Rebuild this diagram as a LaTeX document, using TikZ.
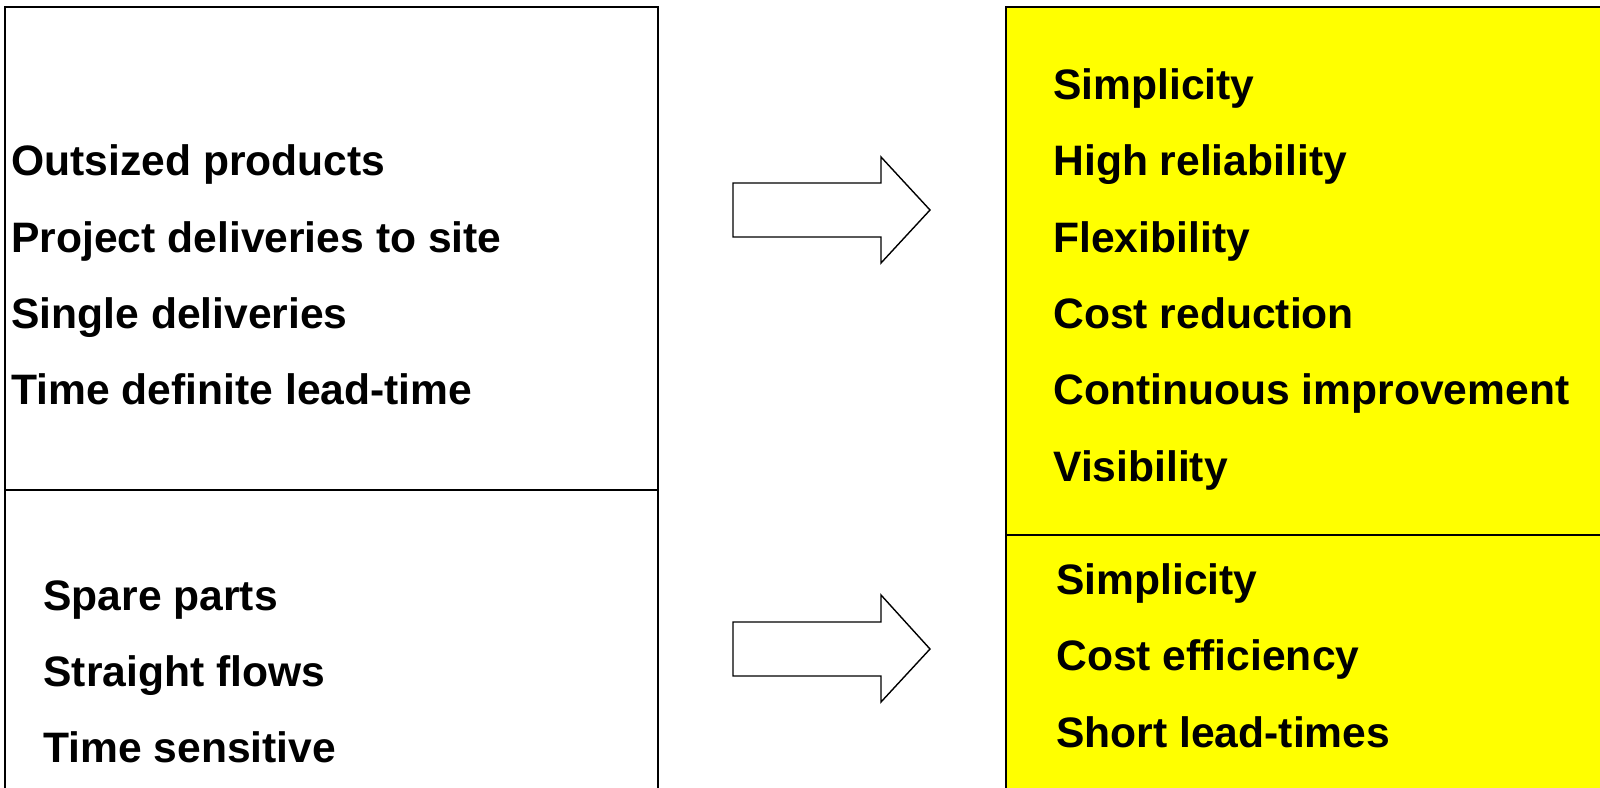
\documentclass[tikz,border=0pt]{standalone}
\usepackage{fontspec}
\setmainfont{Liberation Sans}
\definecolor{panelyellow}{RGB}{255,255,0}
\tikzset{
  panel/.style={draw=black, line width=1pt},
  fatarrow/.style={draw=black, fill=white, line width=0.7pt, line join=miter},
  item/.style={anchor=base west, inner sep=0pt, font=\fontsize{21.3pt}{25pt}\selectfont\bfseries}
}
\begin{document}
\begin{tikzpicture}[x=0.5pt,y=-0.5pt]
\useasboundingbox (0,0) rectangle (1600,787);
\begin{scope}
\clip (0,0) rectangle (1600,787);
% left panel with its divider
\draw[panel] (5,7) rectangle (658,820);
\draw[panel] (5,490) -- (658,490);
% right panel, yellow, open to the right and bottom
\fill[panelyellow] (1006,7) rectangle (1620,820);
\draw[panel] (1006,820) -- (1006,7) -- (1620,7);
\draw[panel] (1006,535) -- (1620,535);
\end{scope}

% block arrows between the panels
\draw[fatarrow] (733,183) -- (881,183) -- (881,157) -- (930,210) -- (881,263) -- (881,237) -- (733,237) -- cycle;
\draw[fatarrow] (733,622) -- (881,622) -- (881,595) -- (930,649) -- (881,702) -- (881,676) -- (733,676) -- cycle;

% upper left items
\node[item] (l1) at (11,175.5) {Outsized products};
\node[item] (l2) at (11,252) {Project deliveries to site};
\node[item] (l3) at (11,328) {Single deliveries};
\node[item] (l4) at (11,404) {Time definite lead-time};

% lower left items
\node[item] (b1) at (43,610) {Spare parts};
\node[item] (b2) at (43,686) {Straight flows};
\node[item] (b3) at (43,762) {Time sensitive};

% upper right items
\node[item] (r1) at (1053,99) {Simplicity};
\node[item] (r2) at (1053,175.5) {High reliability};
\node[item] (r3) at (1053,252) {Flexibility};
\node[item] (r4) at (1053,328) {Cost reduction};
\node[item] (r5) at (1053,404) {Continuous improvement};
\node[item] (r6) at (1053,481) {Visibility};

% lower right items
\node[item] (s1) at (1056,594) {Simplicity};
\node[item] (s2) at (1056,670) {Cost efficiency};
\node[item] (s3) at (1056,747) {Short lead-times};
\end{tikzpicture}
\end{document}
